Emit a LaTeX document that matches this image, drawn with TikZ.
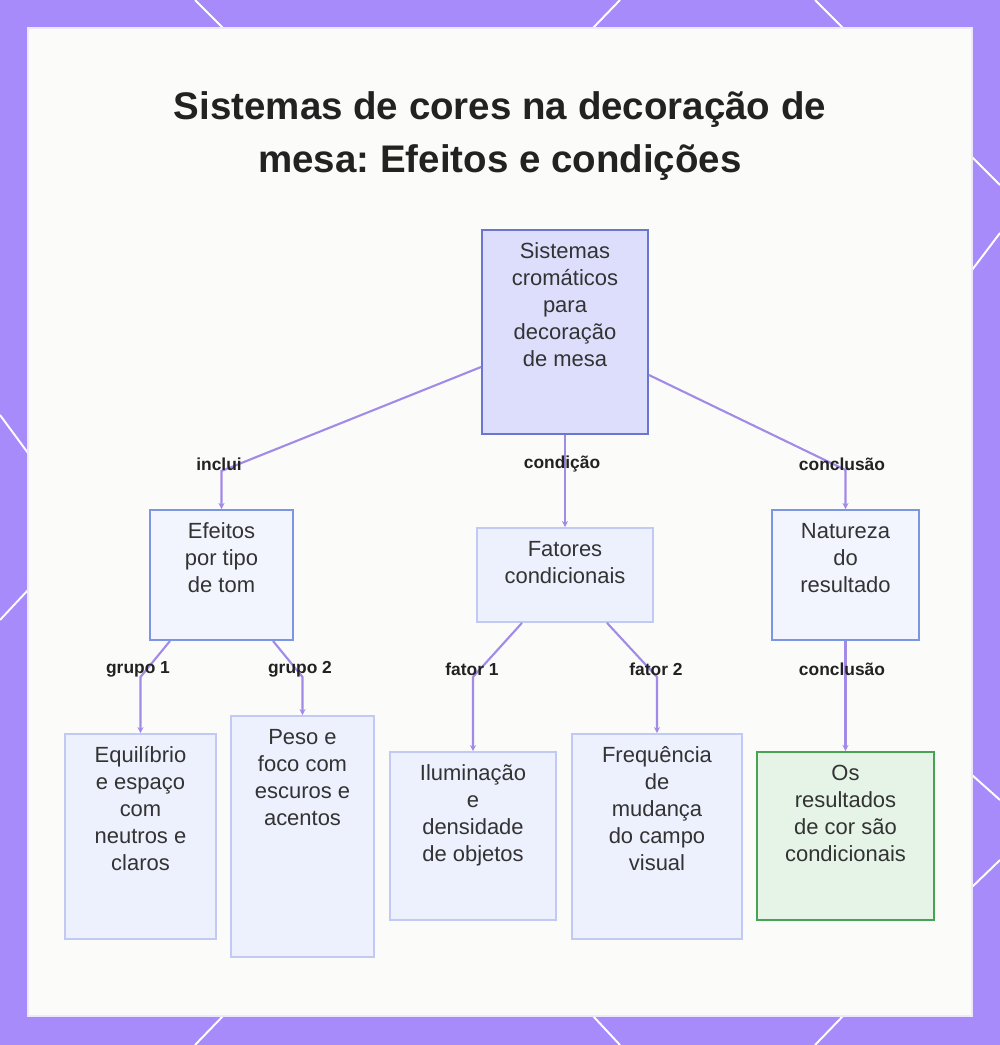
\documentclass[tikz,border=0pt]{standalone}
\usepackage{fontspec}
\setmainfont{Liberation Sans}
\frenchspacing
\usetikzlibrary{arrows.meta,calc}
\definecolor{bgpurple}{HTML}{A78BFA}
\definecolor{panelfill}{HTML}{FBFBFA}
\definecolor{paneledge}{HTML}{EEE8FD}
\definecolor{conn}{HTML}{A28BE7}
\definecolor{rootfill}{HTML}{DCDEFC}
\definecolor{rootdraw}{HTML}{6B77CF}
\definecolor{midfill}{HTML}{F3F5FE}
\definecolor{middraw}{HTML}{7D96E0}
\definecolor{softfill}{HTML}{EDF0FD}
\definecolor{softdraw}{HTML}{C3C9F5}
\definecolor{greenfill}{HTML}{E5F4E7}
\definecolor{greendraw}{HTML}{47A452}
\definecolor{txt}{HTML}{333333}
\definecolor{ttl}{HTML}{222222}
\newlength\px
\setlength\px{0.56905pt}
\newcommand\bxt[3]{\parbox[c][#2\px][t]{#1\px}{\centering\rule{0pt}{28.5\px}#3\par}}
\tikzset{
  boxbase/.style={inner sep=0pt, text=txt, font=\fontsize{12.5pt}{15.36pt}\selectfont},
  rootbox/.style={boxbase, draw=rootdraw, fill=rootfill, line width=1.1pt},
  midbox/.style={boxbase, draw=middraw, fill=midfill, line width=1.1pt},
  softbox/.style={boxbase, draw=softdraw, fill=softfill, line width=1pt},
  greenbox/.style={boxbase, draw=greendraw, fill=greenfill, line width=1.1pt},
  conline/.style={draw=conn, line width=1.2pt, -{Stealth[length=3.5pt,width=3.5pt]}},
  lbl/.style={font=\fontsize{9.9pt}{12pt}\selectfont\bfseries, text=ttl, inner sep=1pt},
  frameline/.style={draw=white, line width=1.1pt}
}
\begin{document}
\begin{tikzpicture}[x=0.02cm,y=-0.02cm]
\useasboundingbox (0,0) rectangle (1000,1045);
\fill[bgpurple] (0,0) rectangle (1000,1045);
% white frame lines
\draw[frameline] (195,0) -- (223,28);
\draw[frameline] (620,0) -- (593,28);
\draw[frameline] (815,0) -- (843,28);
\draw[frameline] (195,1045) -- (223,1016);
\draw[frameline] (620,1045) -- (593,1016);
\draw[frameline] (815,1045) -- (843,1016);
\draw[frameline] (0,415) -- (28,453);
\draw[frameline] (0,620) -- (28,590);
\draw[frameline] (972,157) -- (1000,185);
\draw[frameline] (972,270) -- (1000,233);
\draw[frameline] (972,775) -- (1000,800);
\draw[frameline] (972,887) -- (1000,860);
% panel
\fill[panelfill, draw=paneledge, line width=1pt] (28,28) rectangle (972,1016);
% title
\node[font=\fontsize{21.9pt}{30.2pt}\selectfont\bfseries, text=ttl, align=center] (title) at (500,136)
  {Sistemas de cores na decoração de\\mesa: Efeitos e condições};
% boxes
\node[rootbox] (root) at (565,332) {\bxt{166}{204}{Sistemas\\cromáticos\\para\\decoração\\de mesa}};
\node[midbox] (eff) at (221.5,575) {\bxt{143}{130}{Efeitos\\por tipo\\de tom}};
\node[softbox] (fat) at (565,575) {\bxt{176}{94}{Fatores\\condicionais}};
\node[midbox] (nat) at (845.5,575) {\bxt{147}{130}{Natureza\\do\\resultado}};
\node[softbox] (equ) at (140.5,836.5) {\bxt{151}{205}{Equilíbrio\\e espaço\\com\\neutros e\\claros}};
\node[softbox] (peso) at (302.5,836.5) {\bxt{143}{241}{Peso e\\foco com\\escuros e\\acentos}};
\node[softbox] (ilu) at (473,836) {\bxt{166}{168}{Iluminação\\e\\densidade\\de objetos}};
\node[softbox] (freq) at (657,836.5) {\bxt{170}{205}{Frequência\\de\\mudança\\do campo\\visual}};
\node[greenbox] (os) at (845.5,836) {\bxt{177}{168}{Os\\resultados\\de cor são\\condicionais}};
% connectors
\draw[conline] ([yshift=-35\px]root.west) -- (eff.north |- 0,471) -- (eff.north);
\draw[conline] (root.south) -- (fat.north);
\draw[conline] ([yshift=-43\px]root.east) -- (nat.north |- 0,470) -- (nat.north);
\draw[conline] ([xshift=-51.5\px]eff.south) -- (equ.north |- 0,677) -- (equ.north);
\draw[conline] ([xshift=51.5\px]eff.south) -- (peso.north |- 0,677) -- (peso.north);
\draw[conline] ([xshift=-43\px]fat.south) -- (ilu.north |- 0,677) -- (ilu.north);
\draw[conline] ([xshift=42\px]fat.south) -- (freq.north |- 0,677) -- (freq.north);
\draw[conline] (nat.south) -- (os.north);
% labels
\node[lbl] (l1) at (219,464) {inclui};
\node[lbl] (l2) at (562,464) {condição};
\node[lbl] (l3) at (842,464) {conclusão};
\node[lbl] (l4) at (138,669) {grupo 1};
\node[lbl] (l5) at (300,669) {grupo 2};
\node[lbl] (l6) at (472,669) {fator 1};
\node[lbl] (l7) at (656,669) {fator 2};
\node[lbl] (l8) at (842,669) {conclusão};
\end{tikzpicture}
\end{document}
